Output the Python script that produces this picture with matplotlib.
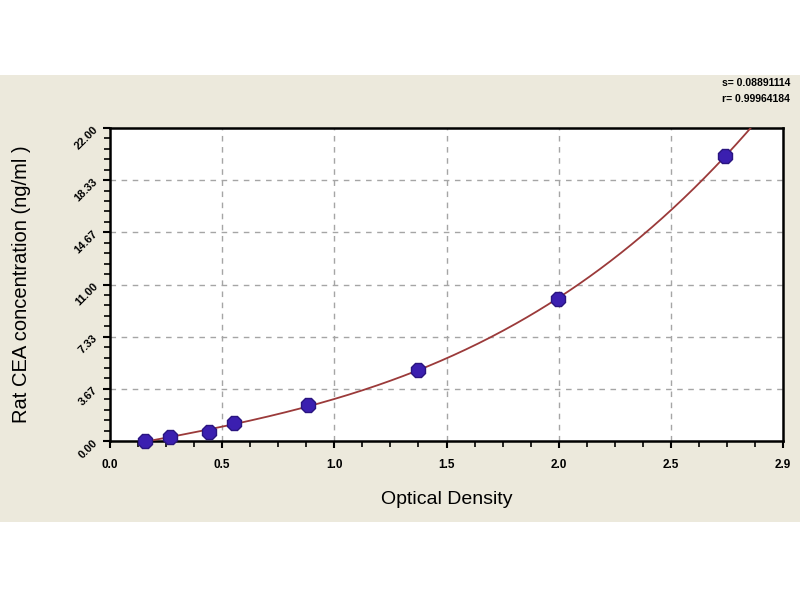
import numpy as np
import matplotlib
matplotlib.use("Agg")
import matplotlib.pyplot as plt
from matplotlib.patches import Rectangle
from matplotlib.ticker import MultipleLocator, FixedLocator

# data
od = [0.156, 0.268, 0.442, 0.554, 0.884, 1.375, 1.996, 2.741]
conc = [0.0, 0.312, 0.625, 1.25, 2.5, 5.0, 10.0, 20.0]
x_ticks = [0.0, 0.5, 1.0, 1.5, 2.0, 2.5, 3.0]
x_tick_labels = ["0.0", "0.5", "1.0", "1.5", "2.0", "2.5", "2.9"]
y_ticks = [0.0, 3.67, 7.33, 11.0, 14.67, 18.33, 22.0]
y_tick_labels = ["0.00", "3.67", "7.33", "11.00", "14.67", "18.33", "22.00"]
stat_lines = ["s= 0.08891114", "r= 0.99964184"]

plt.rcParams['font.family'] = ['Liberation Sans', 'DejaVu Sans']

fig = plt.figure(figsize=(8, 6), dpi=100)
fig.patch.set_facecolor("white")
fig.patches.append(Rectangle((0, 78 / 600), 1, (522 - 75) / 600, transform=fig.transFigure,
                             facecolor="#ECE9DC", edgecolor="none", zorder=-10))

ax = fig.add_axes([110 / 800, (600 - 441) / 600, (783 - 110) / 800, (441 - 128) / 600])
ax.set_zorder(1)
ax.set_facecolor("white")
ax.set_xlim(0, 3.0)
ax.set_ylim(0, 22.0)

# fitted curve (cubic polynomial fit to the standards)
coef = np.polyfit(od, conc, 3)
xs = np.linspace(od[0], 2.95, 300)
ax.plot(xs, np.polyval(coef, xs), color="#9B3A3A", lw=1.3, zorder=3)

ax.plot(od, conc, linestyle="none", marker="8", markersize=11,
        markerfacecolor="#3B1FB0", markeredgecolor="#2A1580", markeredgewidth=1, zorder=4,
        clip_on=False)

ax.xaxis.set_major_locator(FixedLocator(x_ticks))
ax.set_xticklabels(x_tick_labels, fontsize=8.5, fontweight="bold")
ax.xaxis.set_minor_locator(MultipleLocator(0.125))
ax.yaxis.set_major_locator(FixedLocator(y_ticks))
ax.set_yticklabels(y_tick_labels, fontsize=8, fontweight="bold", rotation=45,
                   ha="right", va="center", rotation_mode="anchor")
ax.yaxis.set_minor_locator(MultipleLocator(22 / 30))

ax.tick_params(axis="both", which="major", direction="out", length=5, width=1.5, color="black")
ax.tick_params(axis="both", which="minor", direction="out", length=4, width=1.2, color="black")
ax.tick_params(axis="x", which="major", pad=8)
ax.tick_params(axis="y", which="major", pad=5)

for sp in ax.spines.values():
    sp.set_linewidth(1.8)
    sp.set_color("black")

for v in x_ticks[1:-1]:
    ax.axvline(v, color="#A5A5A5", lw=1, ls=(0, (4, 4)), zorder=1)
for v in y_ticks[1:-1]:
    ax.axhline(v, color="#A5A5A5", lw=1, ls=(0, (4, 4)), zorder=1)

ax.set_xlabel("Optical Density", fontsize=14, labelpad=14)
ax.set_ylabel("Rat CEA concentration (ng/ml )", fontsize=14.5, labelpad=30)

fig.text(790 / 800, 1 - 83 / 600, stat_lines[0], ha="right", va="center", fontsize=7.5, fontweight="bold")
fig.text(790 / 800, 1 - 99 / 600, stat_lines[1], ha="right", va="center", fontsize=7.5, fontweight="bold")

fig.savefig("out.png", dpi=100)
